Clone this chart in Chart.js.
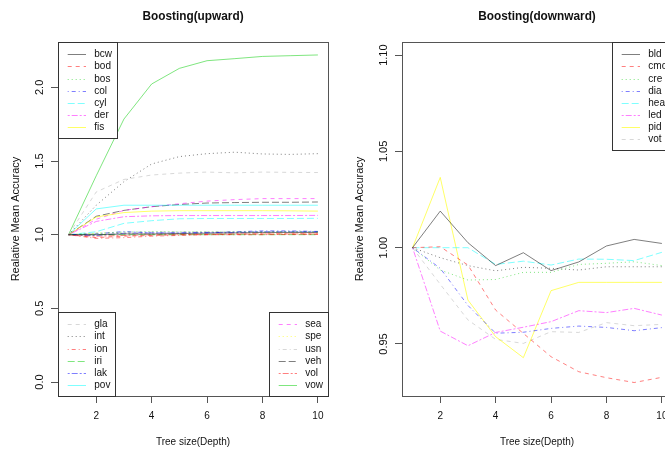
<!DOCTYPE html>
<html>
<head>
<meta charset="utf-8">
<script src="https://cdn.jsdelivr.net/npm/chart.js@4.4.0/dist/chart.umd.min.js"></script>
<style>
  html, body { margin: 0; padding: 0; background: #fff; overflow: hidden; }
  #wrap { position: relative; width: 665px; height: 450px; overflow: hidden; background: #fff; }
  canvas { position: absolute; top: 0; }
  #up { left: 0; }
  #down { left: 344px; }
</style>
</head>
<body>
<div id="wrap">
  <canvas id="up" width="345" height="450"></canvas>
  <canvas id="down" width="345" height="450"></canvas>
</div>
<script>
// tree depth on the x axis
const depth = [1, 2, 3, 4, 5, 6, 7, 8, 9, 10];
const xTicks = [2, 4, 6, 8, 10];

// --- Boosting(upward) series ---
const upNames = ['bcw', 'bod', 'bos', 'col', 'cyl', 'der', 'fis', 'gla', 'int', 'ion',
  'iri', 'lak', 'pov', 'sea', 'spe', 'usn', 'veh', 'vol', 'vow'];
const bcw = [1, 1.000, 1.005, 1.005, 1.008, 1.010, 1.012, 1.015, 1.015, 1.015];
const bod = [1, 0.980, 0.990, 0.995, 1.000, 1.000, 1.003, 1.005, 1.005, 1.005];
const bos = [1, 1.010, 1.018, 1.022, 1.020, 1.020, 1.020, 1.020, 1.022, 1.022];
const col = [1, 1.005, 1.022, 1.012, 1.012, 1.012, 1.020, 1.026, 1.026, 1.022];
const cyl = [1, 1.020, 1.077, 1.095, 1.108, 1.110, 1.110, 1.110, 1.110, 1.111];
const der = [1, 1.090, 1.122, 1.128, 1.130, 1.130, 1.130, 1.130, 1.130, 1.131];
const fis = [1, 1.120, 1.150, 1.160, 1.163, 1.163, 1.163, 1.163, 1.162, 1.160];
const gla = [1, 1.290, 1.375, 1.405, 1.418, 1.425, 1.420, 1.425, 1.423, 1.422];
const int = [1, 1.200, 1.360, 1.480, 1.530, 1.550, 1.560, 1.548, 1.545, 1.550];
const ion = [1, 0.975, 0.980, 0.990, 0.995, 1.000, 1.000, 1.000, 1.002, 1.002];
const iri = [1, 1.000, 1.000, 1.000, 1.000, 1.000, 1.000, 1.000, 1.000, 1.000];
const lak = [1, 0.995, 1.010, 1.012, 1.012, 1.015, 1.015, 1.020, 1.020, 1.020];
const pov = [1, 1.175, 1.200, 1.200, 1.200, 1.200, 1.200, 1.200, 1.200, 1.200];
const sea = [1, 1.105, 1.165, 1.190, 1.210, 1.228, 1.238, 1.245, 1.245, 1.245];
const spe = [1, 1.010, 1.010, 1.010, 1.012, 1.012, 1.012, 1.012, 1.012, 1.012];
const usn = [1, 1.010, 1.015, 1.018, 1.020, 1.020, 1.020, 1.022, 1.022, 1.022];
const veh = [1, 1.125, 1.165, 1.190, 1.205, 1.215, 1.218, 1.220, 1.220, 1.222];
const vol = [1, 0.990, 0.995, 1.000, 1.000, 1.003, 1.005, 1.005, 1.005, 1.005];
const vow = [1, 1.400, 1.785, 2.023, 2.129, 2.181, 2.195, 2.210, 2.215, 2.220];
const upSeries = [bcw, bod, bos, col, cyl, der, fis, gla, int, ion, iri, lak, pov, sea, spe, usn, veh, vol, vow];
const upYTicks = [0, 0.5, 1, 1.5, 2];
const upYLabels = ['0.0', '0.5', '1.0', '1.5', '2.0'];

// --- Boosting(downward) series ---
// last line is drawn in the plot but has no legend entry
const downNames = ['bld', 'cmc', 'cre', 'dia', 'hea', 'led', 'pid', 'vot', ''];
const bld = [1, 1.0190, 1.0026, 0.9907, 0.9974, 0.9881, 0.9926, 1.0009, 1.0043, 1.0022];
const cmc = [1, 1.0005, 0.9910, 0.9676, 0.9555, 0.9434, 0.9356, 0.9325, 0.9300, 0.9327];
const cre = [1, 0.9884, 0.9832, 0.9835, 0.9872, 0.9872, 0.9913, 0.9919, 0.9927, 0.9907];
const dia = [1, 0.9893, 0.9700, 0.9556, 0.9561, 0.9581, 0.9593, 0.9586, 0.9569, 0.9585];
const hea = [1, 1.0000, 1.0000, 0.9913, 0.9930, 0.9910, 0.9941, 0.9940, 0.9933, 0.9976];
const led = [1, 0.9567, 0.9491, 0.9560, 0.9587, 0.9616, 0.9673, 0.9663, 0.9685, 0.9650];
const pid = [1, 1.0365, 0.9728, 0.9538, 0.9429, 0.9777, 0.9820, 0.9820, 0.9820, 0.9820];
const vot = [1, 0.9810, 0.9625, 0.9524, 0.9503, 0.9564, 0.9560, 0.9611, 0.9595, 0.9602];
const unlabeled = [1, 0.9948, 0.9907, 0.9880, 0.9898, 0.9893, 0.9884, 0.9901, 0.9901, 0.9901];
const downSeries = [bld, cmc, cre, dia, hea, led, pid, vot, unlabeled];
const downYTicks = [0.95, 1.0, 1.05, 1.1];
const downYLabels = ['0.95', '1.00', '1.05', '1.10'];

// R default palette (col = 1:8) with alpha, lty = 1:6
const palette = ['rgba(0,0,0,0.5)', 'rgba(255,0,0,0.5)', 'rgba(0,205,0,0.5)', 'rgba(0,0,255,0.5)',
  'rgba(0,255,255,0.5)', 'rgba(255,0,255,0.5)', 'rgba(255,255,0,0.6)', 'rgba(190,190,190,0.6)'];
const dashes = [[], [4, 4], [1, 3], [1, 3, 4, 3], [7, 3], [2, 2, 6, 2]];

const FONT = '"Liberation Sans", Arial, sans-serif';
const SQ = 0.91; // picture is slightly squeezed horizontally

const drawText = (ctx, s, x, y, align, rotate) => {
  ctx.save();
  ctx.translate(x, y);
  ctx.scale(SQ, 1);
  if (rotate) ctx.rotate(-Math.PI / 2);
  ctx.textAlign = align;
  ctx.textBaseline = 'middle';
  ctx.fillText(s, 0, 0);
  ctx.restore();
};

// titles, rotated y tick labels, box and the R-style legends
const rText = {
  id: 'rtext',
  afterDraw(chart, args, opts) {
    const ctx = chart.ctx;
    const a = chart.chartArea;
    const xs = chart.scales.x;
    const ys = chart.scales.y;

    ctx.save();
    ctx.strokeStyle = '#555';
    ctx.lineWidth = 1;
    ctx.setLineDash([]);
    ctx.strokeRect(Math.round(a.left) + 0.5, Math.round(a.top) + 0.5,
      Math.round(a.right - a.left), Math.round(a.bottom - a.top));

    ctx.fillStyle = '#111';
    ctx.font = 'bold 13px ' + FONT;
    drawText(ctx, opts.title, (a.left + a.right) / 2, 16, 'center');

    ctx.font = '11px ' + FONT;
    xTicks.forEach(v => drawText(ctx, String(v), xs.getPixelForValue(v), 416, 'center'));
    opts.yTicks.forEach((v, i) => drawText(ctx, opts.yLabels[i], 40, ys.getPixelForValue(v), 'center', true));
    drawText(ctx, 'Tree size(Depth)', (a.left + a.right) / 2, 442, 'center');
    drawText(ctx, 'Realative Mean Accuracy', 16.5, (a.top + a.bottom) / 2, 'center', true);

    // legends
    const rowH = 12.1;
    opts.legends.forEach(lg => {
      const items = chart.data.datasets.filter(d => lg.names.includes(d.label));
      const tw = Math.max(...items.map(d => ctx.measureText(d.label).width)) * SQ;
      const w = Math.round(36.3 + tw + 5);
      const h = Math.round(items.length * rowH + 11.3);
      const bx = lg.corner.includes('left') ? Math.round(a.left) : Math.round(a.right) - w;
      const by = lg.corner.includes('top') ? Math.round(a.top) : Math.round(a.bottom) - h;
      ctx.fillStyle = '#fff';
      ctx.fillRect(bx, by, w, h);
      ctx.strokeStyle = '#333';
      ctx.strokeRect(bx + 0.5, by + 0.5, w, h);
      items.forEach((d, i) => {
        const yy = by + 12.3 + i * rowH;
        ctx.strokeStyle = d.borderColor;
        ctx.setLineDash(d.borderDash);
        ctx.beginPath();
        ctx.moveTo(bx + 9.7, Math.round(yy) + 0.5);
        ctx.lineTo(bx + 28, Math.round(yy) + 0.5);
        ctx.stroke();
        ctx.setLineDash([]);
        ctx.fillStyle = '#111';
        drawText(ctx, d.label, bx + 36.3, yy, 'left');
      });
    });
    ctx.restore();
  }
};

const makeChart = (id, names, series, yMin, yMax, yTicks, yLabels, title, legends) => {
  const datasets = names.map((name, i) => ({
    label: name,
    data: depth.map((d, j) => ({ x: d, y: series[i][j] })),
    borderColor: palette[i % 8],
    borderDash: dashes[i % 6],
    borderWidth: 1,
    pointRadius: 0,
    fill: false,
    tension: 0,
  }));
  const tickGrid = { drawOnChartArea: false, drawTicks: true, tickLength: 7, color: '#555', lineWidth: 1 };
  return new Chart(document.getElementById(id), {
    type: 'line',
    data: { datasets },
    options: {
      responsive: false,
      animation: false,
      devicePixelRatio: 1,
      layout: { padding: { top: 42, right: 17, left: 0, bottom: 0 } },
      plugins: {
        legend: { display: false },
        title: { display: false },
        tooltip: { enabled: false },
        rtext: { title, yTicks, yLabels, legends },
      },
      scales: {
        x: {
          type: 'linear', min: 0.62, max: 10.365,
          afterBuildTicks: s => { s.ticks = xTicks.map(v => ({ value: v })); },
          afterFit: s => { s.height = 54; },
          ticks: { display: false },
          grid: tickGrid,
          border: { display: false },
        },
        y: {
          type: 'linear', min: yMin, max: yMax,
          afterBuildTicks: s => { s.ticks = yTicks.map(v => ({ value: v })); },
          afterFit: s => { s.width = 58; },
          ticks: { display: false },
          grid: tickGrid,
          border: { display: false },
        },
      },
    },
    plugins: [rText],
  });
};

makeChart('up', upNames, upSeries, -0.095, 2.308, upYTicks, upYLabels, 'Boosting(upward)', [
  { corner: 'topleft', names: upNames.slice(0, 7) },
  { corner: 'bottomleft', names: upNames.slice(7, 13) },
  { corner: 'bottomright', names: upNames.slice(13, 19) },
]);

makeChart('down', downNames, downSeries, 0.923, 1.1068, downYTicks, downYLabels, 'Boosting(downward)', [
  { corner: 'topright', names: downNames.slice(0, 8) },
]);
</script>
</body>
</html>
